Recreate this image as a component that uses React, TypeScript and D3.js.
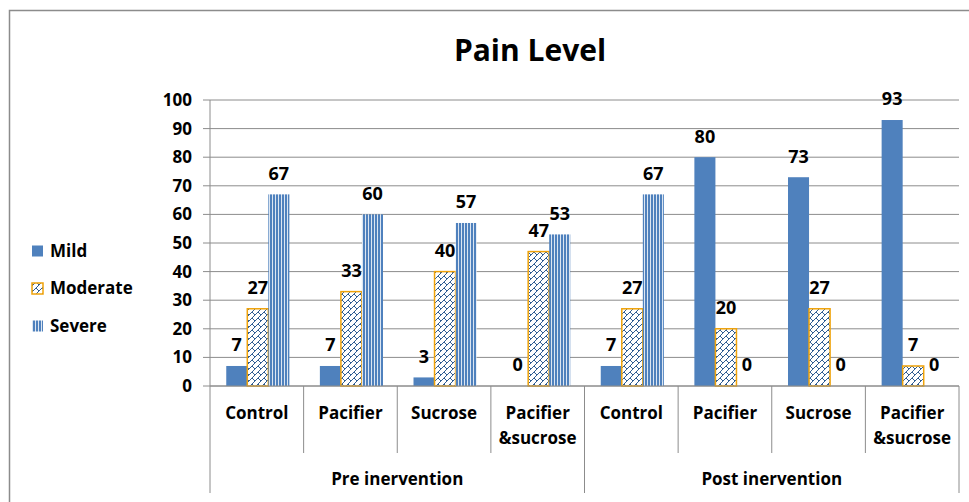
import React from "react";
import * as d3 from "d3";

const categories = ["Control", "Pacifier", "Sucrose", "Pacifier\n&sucrose", "Control", "Pacifier", "Sucrose", "Pacifier\n&sucrose"];
const groups = ["Pre inervention", "Post inervention"];
const seriesNames = ["Mild", "Moderate", "Severe"];
const mild = [7, 7, 3, 0, 7, 80, 73, 93];
const moderate = [27, 33, 40, 47, 27, 20, 27, 7];
const severe = [67, 60, 57, 53, 67, 0, 0, 0];
const yTicks = [0, 10, 20, 30, 40, 50, 60, 70, 80, 90, 100];

const W = 969, H = 502;
const left = 210, right = 959, top = 100, bottom = 386;
const FONT = "'Open Sans', sans-serif";
const BLUE = "#4F81BD";
const ORANGE = "#F0A30A";

export default function App() {
  const idx = categories.map((_, i) => i);
  const x = d3.scaleBand<number>().domain(idx).range([left, right]).paddingInner(0).paddingOuter(0);
  const y = d3.scaleLinear().domain([0, 100]).range([bottom, top]);
  const bw = x.bandwidth();
  const barW = bw / (3 + 1.45);
  const inner = d3.scaleBand<number>().domain([0, 1, 2]).range([0, barW * 3]);
  const offset = (bw - barW * 3) / 2 + 1;
  const data = [mild, moderate, severe];
  const fills = [BLUE, "url(#hatch)", "url(#vstripe)"];

  return (
    <svg width={W} height={H} style={{ position: "absolute", left: 0, top: 0, background: "#fff" }} fontFamily={FONT}>
      <defs>
        <pattern id="hatch" patternUnits="userSpaceOnUse" width="6" height="6">
          <rect width="6" height="6" fill="#fff" />
          <path d="M0,6 L6,0 M-1,1 L1,-1 M5,7 L7,5" stroke="#2F5D93" strokeWidth="1" />
          <path d="M0,0 L3,3" stroke="#2F5D93" strokeWidth="1" />
        </pattern>
        <pattern id="vstripe" patternUnits="userSpaceOnUse" width="3" height="3">
          <rect width="3" height="3" fill="#DCE6F2" />
          <rect width="2" height="3" fill={BLUE} />
        </pattern>
      </defs>
      <path d={`M9.5,${H} V10.5 H${W}`} fill="none" stroke="#8C8C8C" strokeWidth="1.5" />
      <text x={530} y={50} dy="0.35em" textAnchor="middle" fontSize={30} fontWeight="bold" fill="#000">Pain Level</text>
      {yTicks.map((t) => (
        <g key={t}>
          <line x1={left} x2={right} y1={y(t)} y2={y(t)} stroke="#8C8C8C" strokeWidth={1} />
          <line x1={left - 7} x2={left} y1={y(t)} y2={y(t)} stroke="#8C8C8C" strokeWidth={1} />
          <text x={192} y={y(t)} dy="0.35em" textAnchor="end" fontSize={17} fontWeight="bold" fill="#000">{t}</text>
        </g>
      ))}
      <line x1={left} x2={left} y1={top} y2={bottom} stroke="#8C8C8C" />
      {data.map((vals, s) =>
        vals.map((v, i) => {
          const bx = (x(i) as number) + offset + (inner(s) as number);
          return (
            <g key={`${s}-${i}`}>
              {v > 0 && (
                <rect x={bx} y={y(v)} width={barW} height={y(0) - y(v)} fill={fills[s]}
                  stroke={s === 1 ? ORANGE : "none"} strokeWidth={s === 1 ? 1.5 : 0} />
              )}
              <text x={bx + barW / 2} y={y(v) - 21} dy="0.35em" textAnchor="middle" fontSize={18} fontWeight="bold" fill="#000">{v}</text>
            </g>
          );
        })
      )}
      <line x1={left} x2={right} y1={bottom} y2={bottom} stroke="#8C8C8C" />
      {idx.map((i) => {
        const xs = x(i) as number;
        const isGroupEdge = i === 0 || i === 4;
        return (
          <line key={`sep${i}`} x1={xs} x2={xs} y1={bottom} y2={isGroupEdge ? 493 : 453} stroke="#8C8C8C" />
        );
      })}
      <line x1={right} x2={right} y1={bottom} y2={493} stroke="#8C8C8C" />
      {categories.map((c, i) => {
        const lines = c.split("\n");
        const cx = (x(i) as number) + bw / 2;
        return (
          <text key={`c${i}`} x={cx} y={413} textAnchor="middle" fontSize={17} fontWeight="bold" fill="#000">
            {lines.map((l, k) => (
              <tspan key={k} x={cx} y={413 + k * 25} dy="0.35em">{l}</tspan>
            ))}
          </text>
        );
      })}
      {groups.map((g, gi) => {
        const x0 = x(gi * 4) as number;
        const x1 = gi === 0 ? (x(4) as number) : right;
        return (
          <text key={g} x={(x0 + x1) / 2} y={479} dy="0.35em" textAnchor="middle" fontSize={17} fontWeight="bold" fill="#000">{g}</text>
        );
      })}
      {seriesNames.map((n, s) => {
        const ly = 251 + s * 37.5;
        return (
          <g key={n}>
            <rect x={32} y={ly - 5.5} width={11} height={11} fill={fills[s]} stroke={s === 1 ? ORANGE : "none"} strokeWidth={s === 1 ? 1.5 : 0} />
            <text x={50} y={ly} dy="0.35em" fontSize={17} fontWeight="bold" fill="#000">{n}</text>
          </g>
        );
      })}
    </svg>
  );
}
